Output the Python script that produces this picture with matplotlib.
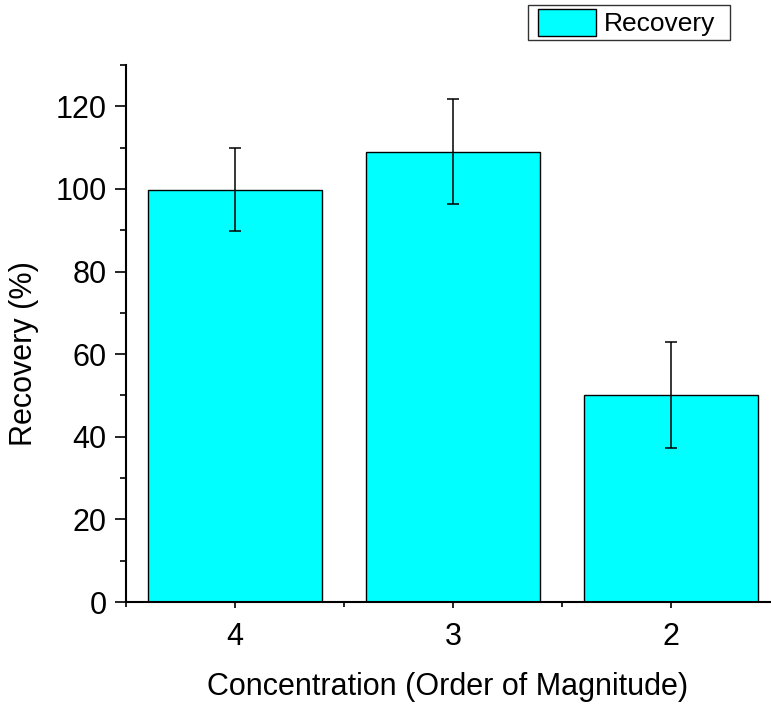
import matplotlib.pyplot as plt
from matplotlib.patches import Rectangle
from matplotlib.ticker import MultipleLocator, FixedLocator

# values
categories = ['4', '3', '2']
recovery = [99.8, 109.0, 50.2]
recovery_err = [10.1, 12.7, 12.8]

plt.rcParams['font.family'] = ['Liberation Sans', 'DejaVu Sans']

W, H = 771, 707
fig = plt.figure(figsize=(W / 100, H / 100), dpi=100)
ax = fig.add_axes([126 / W, 1 - 602 / H, (780 - 126) / W, (602 - 65) / H])

x = list(range(1, len(categories) + 1))
ax.bar(x, recovery, width=0.8, color='#00ffff', edgecolor='black', linewidth=1.0,
       label='Recovery', zorder=2)
ax.errorbar(x, recovery, yerr=recovery_err, fmt='none', ecolor='black',
            elinewidth=1.1, capsize=4, capthick=1.1, zorder=3)

ax.set_xlim(0.5, 3.5)
ax.set_ylim(0, 130)
ax.set_xticks(x)
ax.set_xticklabels(categories)
ax.xaxis.set_minor_locator(FixedLocator([0.5, 1.5, 2.5, 3.5]))
ax.yaxis.set_major_locator(MultipleLocator(20))
ax.yaxis.set_minor_locator(MultipleLocator(10))

for side in ['top', 'right']:
    ax.spines[side].set_visible(False)
for side in ['left', 'bottom']:
    ax.spines[side].set_linewidth(1.5)

ax.tick_params(axis='y', which='major', direction='out', length=8, width=1.2,
               labelsize=22, pad=6)
ax.tick_params(axis='y', which='minor', direction='out', length=4, width=1.2)
ax.tick_params(axis='x', which='major', direction='out', length=4.5, width=1.2,
               labelsize=22, pad=10)
ax.tick_params(axis='x', which='minor', direction='out', length=3.5, width=1.2)

ax.set_xlabel('Concentration (Order of Magnitude)', fontsize=22, labelpad=14)
ax.set_ylabel('Recovery (%)', fontsize=22, labelpad=12)
ax.xaxis.label.set_x(0.491)
ax.yaxis.label.set_y(0.462)

# legend box drawn by hand (Origin style: wide side padding, tight top/bottom)
fig.patches.append(Rectangle((528 / W, 1 - 40 / H), 202 / W, 35 / H,
                             transform=fig.transFigure, facecolor='white',
                             edgecolor='#333333', linewidth=1.0))
fig.legend(loc='center left', bbox_to_anchor=(538 / W, 1 - 22.5 / H),
           fontsize=19, frameon=False, borderaxespad=0, borderpad=0,
           handlelength=2.2, handleheight=1.2, handletextpad=0.28)

fig.savefig('out.png', dpi=100)
